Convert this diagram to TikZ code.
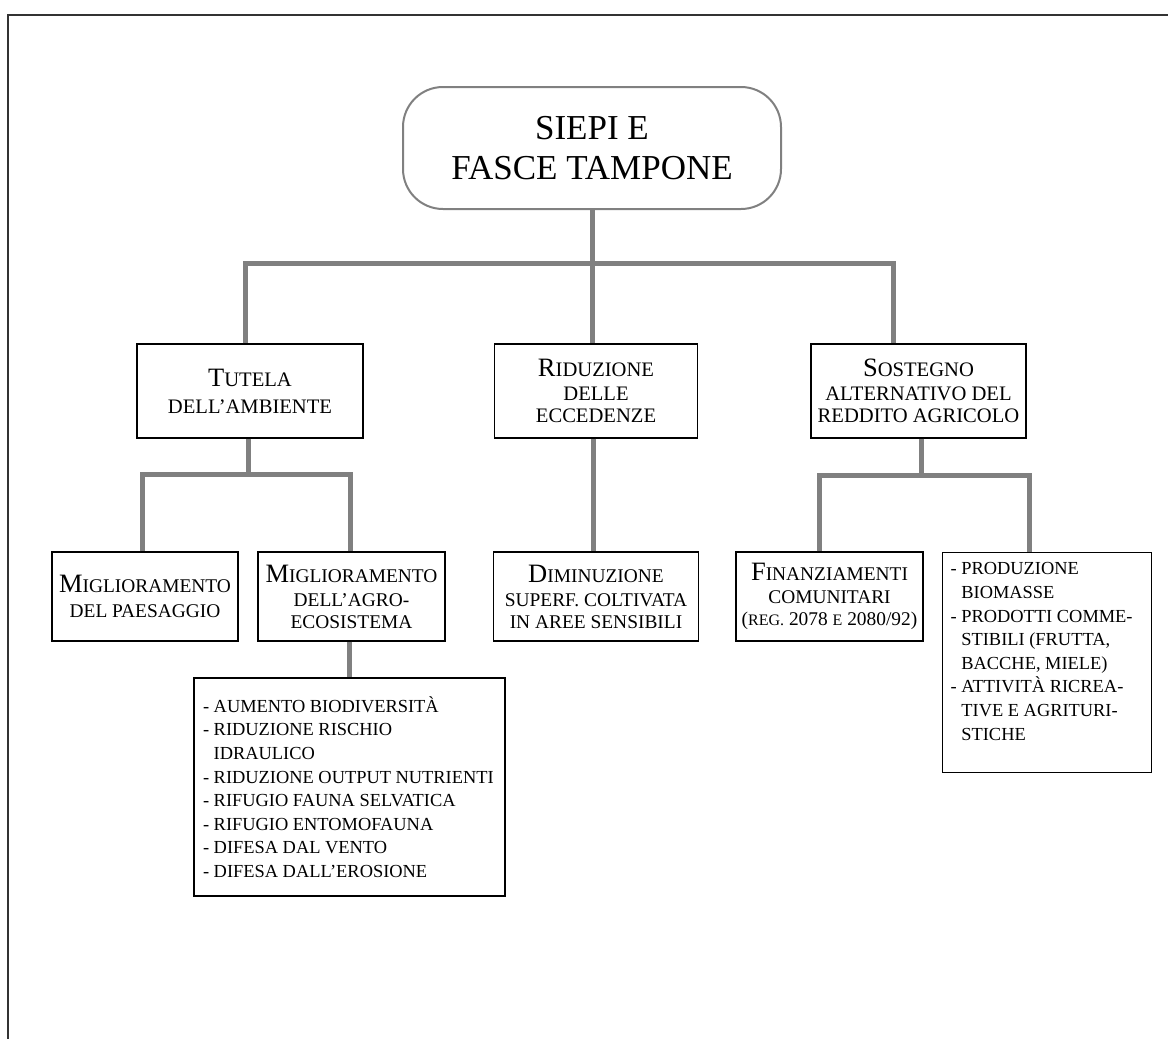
\documentclass[tikz,border=0pt]{standalone}
\usepackage{fontspec}
\setmainfont{Liberation Serif}
\newcommand{\Ini}[1]{{\fontsize{26.5}{22}\selectfont #1}}
\newcommand{\Reg}[1]{{\fontsize{16}{22}\selectfont #1}}
\newcommand{\cont}{\hphantom{-\ }}
\tikzset{
  link/.style={draw=gray, line width=5pt},
  headbox/.style={draw, line width=1.3pt, inner sep=0pt, align=center, font=\fontsize{20.6}{22}\selectfont},
  lowbox/.style={headbox, font=\fontsize{19.4}{22}\selectfont},
  listbox/.style={draw, line width=1.3pt, inner sep=9pt, font=\fontsize{18.4}{23.6}\selectfont}
}

\begin{document}
\begin{tikzpicture}[x=1pt,y=-1pt]
\useasboundingbox (0,0) rectangle (1168,1039);
\draw[line width=1.5pt, black!80] (8,1039) -- (8,15) -- (1168,15);
\node[draw=gray, line width=2pt, rounded corners=40pt, minimum width=378pt, minimum height=122pt,
  align=center, font=\fontsize{35}{40}\selectfont] (siepi) at (592,148) {SIEPI E\\FASCE TAMPONE};
\node[headbox, minimum width=226pt, minimum height=94pt] (tutela) at (250,391)
  {\Ini{T}UTELA\\[5pt]DELL'AMBIENTE};
\node[headbox, minimum width=203pt, minimum height=94pt] (riduz) at (596,391)
  {\Ini{R}IDUZIONE\\[2pt]DELLE\\ECCEDENZE};
\node[headbox, minimum width=215pt, minimum height=94pt] (sosteg) at (918.5,391)
  {\Ini{S}OSTEGNO\\[2pt]ALTERNATIVO DEL\\REDDITO AGRICOLO};
\node[lowbox, minimum width=186pt, minimum height=89pt] (mpaes) at (145,596.5)
  {\Ini{M}IGLIORAMENTO\\[3pt]DEL PAESAGGIO};
\node[lowbox, minimum width=187pt, minimum height=89pt] (magro) at (351.5,596.5)
  {\Ini{M}IGLIORAMENTO\\[2pt]DELL'AGRO-\\ECOSISTEMA};
\node[lowbox, minimum width=205pt, minimum height=89pt] (dimin) at (596,596.5)
  {\Ini{D}IMINUZIONE\\[2pt]SUPERF. COLTIVATA\\IN AREE SENSIBILI};
\node[lowbox, minimum width=187pt, minimum height=89pt] (finanz) at (829.5,596.5)
  {\Ini{F}INANZIAMENTI\\[1pt]COMUNITARI\\(\Reg{REG.} 2078 \Reg{E} 2080/92)};
\node[listbox] (agrolist) at (349.5,787) {\parbox[c][200pt][c]{293pt}{\raggedright
  - AUMENTO BIODIVERSITÀ\\
  - RIDUZIONE RISCHIO\\
  \cont IDRAULICO\\
  - RIDUZIONE OUTPUT NUTRIENTI\\
  - RIFUGIO FAUNA SELVATICA\\
  - RIFUGIO ENTOMOFAUNA\\
  - DIFESA DAL VENTO\\
  - DIFESA DALL'EROSIONE}};
\node[listbox, anchor=north west, inner xsep=8pt, inner ysep=10pt] (prodotti) at (942,552)
  {\parbox[c][200pt][t]{193pt}{\raggedright
  - PRODUZIONE\\
  \cont BIOMASSE\\
  - PRODOTTI COMME-\\
  \cont STIBILI (FRUTTA,\\
  \cont BACCHE, MIELE)\\
  - ATTIVITÀ RICREA-\\
  \cont TIVE E AGRITURI-\\
  \cont STICHE}};
\draw[link] (siepi.south) -- ++(0,53) coordinate (hub);
\draw[link] ([xshift=-5pt]tutela.north) |- (hub) -| ([xshift=-25pt]sosteg.north);
\draw[link] (hub) -- (hub |- riduz.north);
\draw[link] ([xshift=-3pt]riduz.south) -- ([xshift=-3pt]dimin.north);
\draw[link] ([xshift=-2pt]tutela.south) -- ++(0,36) coordinate (hubT);
\draw[link] ([xshift=-3pt]mpaes.north) |- (hubT) -| ([xshift=-1pt]magro.north);
\draw[link] ([xshift=-2pt]magro.south) -- ([xshift=-2pt]magro.south |- agrolist.north);
\draw[link] ([xshift=3pt]sosteg.south) -- ++(0,37) coordinate (hubS);
\draw[link] ([xshift=-10pt]finanz.north) |- (hubS) -| ([xshift=-18pt]prodotti.north);
\end{tikzpicture}
\end{document}
